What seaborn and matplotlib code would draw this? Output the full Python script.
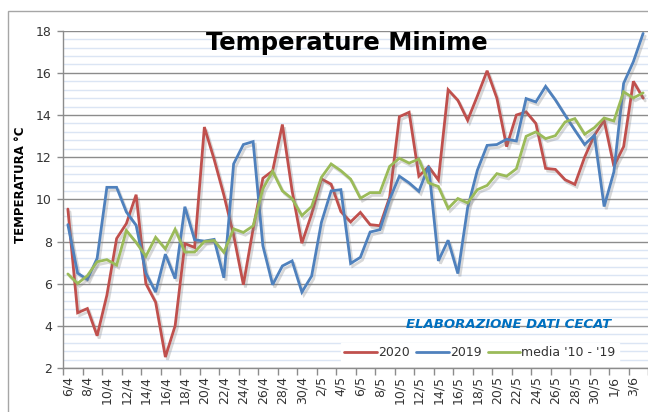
#! /usr/bin/env python3

import numpy as np
import pandas as pd
import matplotlib
matplotlib.use('Agg')
import matplotlib.pyplot as plt
import matplotlib.patheffects as pe
from matplotlib.patches import Rectangle
import seaborn as sns

GIORNI = [
    '6/4', '7/4', '8/4', '9/4', '10/4', '11/4', '12/4', '13/4', '14/4', '15/4',
    '16/4', '17/4', '18/4', '19/4', '20/4', '21/4', '22/4', '23/4', '24/4', '25/4',
    '26/4', '27/4', '28/4', '29/4', '30/4', '1/5', '2/5', '3/5', '4/5', '5/5',
    '6/5', '7/5', '8/5', '9/5', '10/5', '11/5', '12/5', '13/5', '14/5', '15/5',
    '16/5', '17/5', '18/5', '19/5', '20/5', '21/5', '22/5', '23/5', '24/5', '25/5',
    '26/5', '27/5', '28/5', '29/5', '30/5', '31/5', '1/6', '2/6', '3/6', '4/6',
]

T_2020 = [
    9.54, 4.62, 4.82, 3.53, 5.45, 8.14, 8.85, 10.22, 6.0, 5.12,
    2.52, 4.0, 7.9, 7.72, 13.43, 11.9, 10.2, 8.3, 5.95, 8.6,
    11.0, 11.35, 13.55, 10.4, 7.92, 9.3, 10.97, 10.72, 9.42, 8.93,
    9.38, 8.8, 8.75, 10.1, 13.92, 14.13, 11.1, 11.55, 10.92, 15.2,
    14.7, 13.75, 14.9, 16.1, 14.8, 12.5, 14.0, 14.15, 13.6, 11.47,
    11.42, 10.93, 10.71, 12.0, 13.04, 13.75, 11.57, 12.5, 15.6, 14.8,
]

T_2019 = [
    8.8, 6.5, 6.2, 7.2, 10.57, 10.57, 9.4, 8.77, 6.5, 5.6,
    7.4, 6.24, 9.65, 8.08, 8.02, 8.1, 6.28, 11.68, 12.6, 12.74,
    7.8, 5.95, 6.84, 7.08, 5.6, 6.36, 8.9, 10.4, 10.46, 6.96,
    7.25, 8.45, 8.56, 10.0, 11.1, 10.78, 10.38, 11.58, 7.08, 8.06,
    6.48, 9.6, 11.38, 12.56, 12.6, 12.85, 12.77, 14.78, 14.62, 15.36,
    14.72, 13.99, 13.28, 12.6, 13.04, 9.66, 11.3, 15.5, 16.53, 17.87,
]

T_MEDIA = [
    6.46, 6.01, 6.38, 7.04, 7.14, 6.88, 8.52, 7.96, 7.3, 8.2,
    7.65, 8.58, 7.5, 7.5, 8.0, 8.05, 7.49, 8.6, 8.43, 8.74,
    10.5, 11.33, 10.4, 10.03, 9.23, 9.66, 11.04, 11.68, 11.36, 10.96,
    10.05, 10.32, 10.32, 11.56, 11.95, 11.72, 11.91, 10.78, 10.61, 9.57,
    10.04, 9.83, 10.46, 10.66, 11.22, 11.1, 11.45, 12.99, 13.2, 12.88,
    13.02, 13.67, 13.83, 13.09, 13.4, 13.86, 13.72, 15.1, 14.81, 15.05,
]

SERIE = ['2020', '2019', "media '10 - '19"]
COLORI = ['#c0504d', '#4f81bd', '#9bbb59']


def read_data() -> pd.DataFrame:
    data = pd.DataFrame({
        'giorno': range(len(GIORNI)),
        SERIE[0]: T_2020,
        SERIE[1]: T_2019,
        SERIE[2]: T_MEDIA,
    })
    return data.melt(id_vars='giorno', var_name='serie', value_name='temp')


if __name__ == '__main__':

    sns.set_style('white')
    plt.rcParams['font.family'] = ['DejaVu Sans']

    data = read_data()

    W, H = 648, 412
    fig = plt.figure(figsize=(W / 100, H / 100), dpi=100)
    ax = fig.add_axes([63 / W, 1 - 368 / H, 1 - 63 / W, (368 - 30.7) / H])

    sns.lineplot(data=data, x='giorno', y='temp', hue='serie', hue_order=SERIE,
                 palette=COLORI, linewidth=2.0, ax=ax, legend=False)
    for line in ax.lines:
        line.set_path_effects([
            pe.SimpleLineShadow(offset=(1.5, -2), shadow_color='#808080', alpha=0.3),
            pe.Normal(),
        ])
        line.set_solid_joinstyle('miter')

    # assi
    ax.set_xlim(-0.5, 59.18)
    ax.set_ylim(2, 18)
    ax.set_yticks(np.arange(2, 18.1, 2))
    ax.set_yticks(np.arange(2, 18, 0.4), minor=True)
    ax.set_xticks(range(0, len(GIORNI), 2))
    ax.set_xticklabels(GIORNI[::2], rotation=90)
    ax.set_xticks(np.arange(-0.5, len(GIORNI), 2), minor=True)
    ax.set_xlabel('')
    ax.set_ylabel('')

    ax.set_axisbelow(True)
    ax.yaxis.grid(True, which='major', color='#8c8c8c', lw=1.0)
    ax.yaxis.grid(True, which='minor', color='#dbe5f4', lw=1.0)
    ax.xaxis.grid(False)

    ax.tick_params(axis='y', which='major', direction='out', length=4, width=1,
                   color='#8c8c8c', labelsize=9, labelcolor='#333333', pad=4, left=True)
    ax.tick_params(axis='y', which='minor', length=0)
    ax.tick_params(axis='x', which='major', length=0, labelsize=9,
                   labelcolor='#333333', pad=6)
    ax.tick_params(axis='x', which='minor', direction='out', length=5, width=1,
                   color='#8c8c8c', bottom=True)

    for side in ['top', 'right']:
        ax.spines[side].set_visible(False)
    for side in ['left', 'bottom']:
        ax.spines[side].set_color('#8c8c8c')
        ax.spines[side].set_linewidth(1.0)

    # testi
    fig.text(347 / W, 1 - 43 / H, 'Temperature Minime', ha='center', va='center',
             fontsize=17.5, fontweight='bold', color='black')
    fig.text(21 / W, 1 - 185 / H, 'TEMPERATURA °C', rotation=90, ha='center',
             va='center', fontsize=8.5, fontweight='bold', color='black')
    fig.text(509 / W, 1 - 324 / H, 'ELABORAZIONE DATI CECAT', ha='center',
             va='center', fontsize=9.5, fontweight='bold', fontstyle='italic',
             color='#0070c0')

    handles = [plt.Line2D([], [], color=c, lw=2.0) for c in COLORI]
    leg = ax.legend(handles, SERIE, loc='center', ncol=3,
                    bbox_to_anchor=(480 / W, 1 - 353 / H),
                    bbox_transform=fig.transFigure, frameon=True, fontsize=9,
                    handlelength=2.6, handletextpad=0.1, columnspacing=0.5,
                    borderpad=0.3, fancybox=False)
    leg.get_frame().set_facecolor('white')
    leg.get_frame().set_edgecolor('white')
    leg.get_frame().set_alpha(1)
    for t in leg.get_texts():
        t.set_color('#333333')

    # cornice esterna
    fig.patches.append(Rectangle((8 / W, -0.05), 1.2, 1 - 11 / H + 0.05,
                                 transform=fig.transFigure, fill=False,
                                 edgecolor='#a6a6a6', lw=1.0))

    fig.savefig('out.png', dpi=100)
